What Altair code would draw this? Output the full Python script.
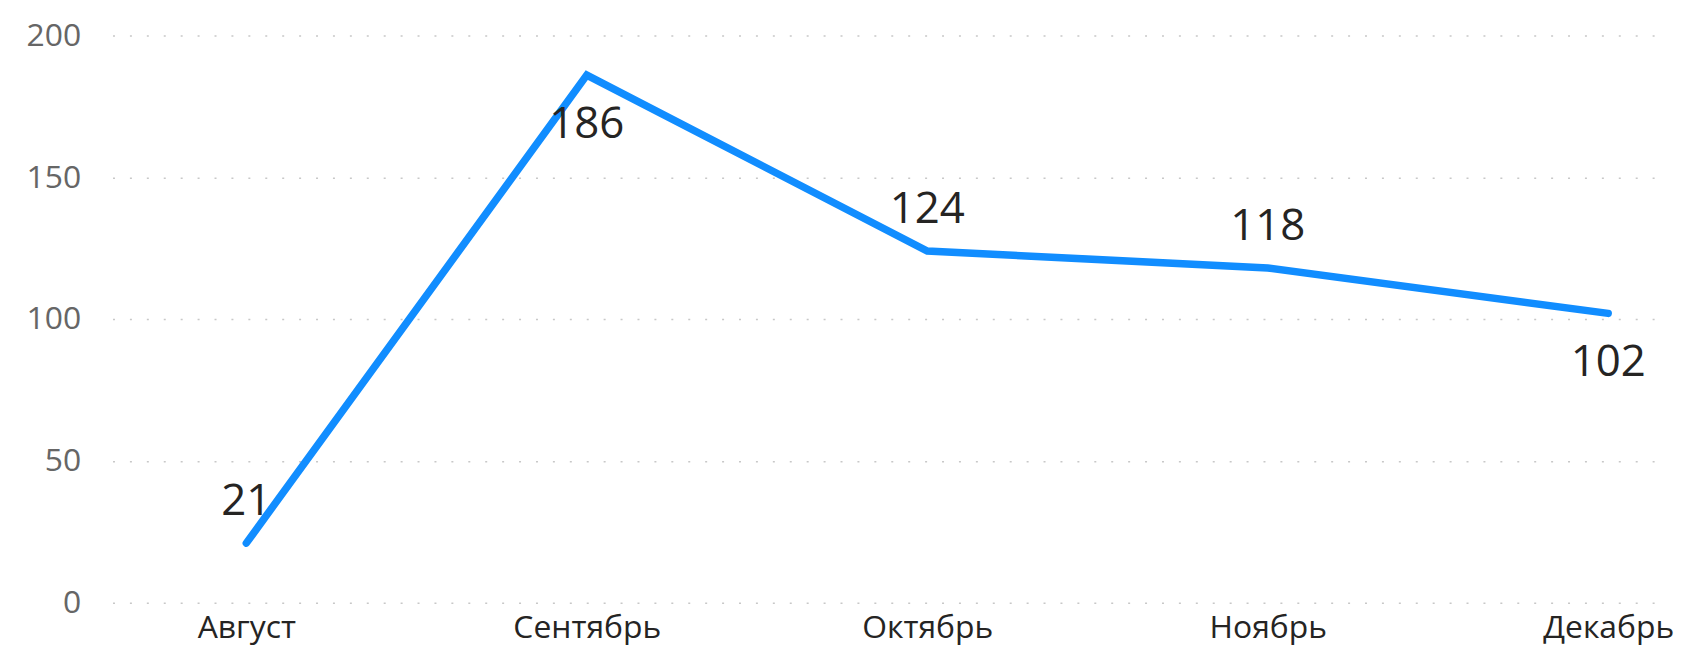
import altair as alt
import pandas as pd

months = ["Август", "Сентябрь", "Октябрь", "Ноябрь", "Декабрь"]
values = [21, 186, 124, 118, 102]
labels_below = ["Сентябрь", "Декабрь"]
y_ticks = [0, 50, 100, 150, 200]

df = pd.DataFrame({"month": months, "value": values, "idx": list(range(len(months)))})

FONT = "Segoe UI, Open Sans, Noto Sans, sans-serif"

month_lookup = "[" + ",".join("'" + m + "'" for m in months) + "]"

x_enc = alt.X(
    "idx:Q",
    scale=alt.Scale(domain=[-0.393, 4.167], nice=False, zero=False),
    axis=alt.Axis(
        title=None, domain=False, ticks=False, grid=False,
        values=list(range(len(months))),
        labelExpr=month_lookup + "[datum.value]",
        labelFontSize=32, labelColor="#252423", labelFont=FONT,
        labelPadding=10, labelAngle=0, labelFlush=False, labelOverlap=False,
    ),
)
y_enc = alt.Y(
    "value:Q",
    scale=alt.Scale(domain=[0, 200], nice=False, zero=True),
    axis=alt.Axis(
        title=None, domain=False, ticks=False, values=y_ticks,
        labelFontSize=32, labelColor="#666666", labelFont=FONT,
        labelPadding=32, grid=True, gridColor="#c8c8c8",
        gridDash=[2, 15], gridWidth=1.5,
    ),
)

base = alt.Chart(df).encode(x=x_enc, y=y_enc)

line = base.mark_line(color="#118DFF", strokeWidth=7.5, strokeCap="round", strokeJoin="miter")

text_above = base.transform_filter(
    ~alt.FieldOneOfPredicate(field="month", oneOf=labels_below)
).mark_text(fontSize=44, font=FONT, color="#252423", baseline="middle", dy=-41).encode(
    text="value:Q"
)
text_below = base.transform_filter(
    alt.FieldOneOfPredicate(field="month", oneOf=labels_below)
).mark_text(fontSize=44, font=FONT, color="#252423", baseline="middle", dy=50).encode(
    text="value:Q"
)

chart = (
    alt.layer(line, text_above, text_below)
    .properties(
        width=1560,
        height=570,
        autosize=alt.AutoSizeParams(type="none"),
        padding={"left": 105, "top": 26, "right": 14, "bottom": 44},
        background="white",
    )
    .configure_view(stroke=None)
)

chart.save("out.html", embed_options={"renderer": "svg", "actions": False})
